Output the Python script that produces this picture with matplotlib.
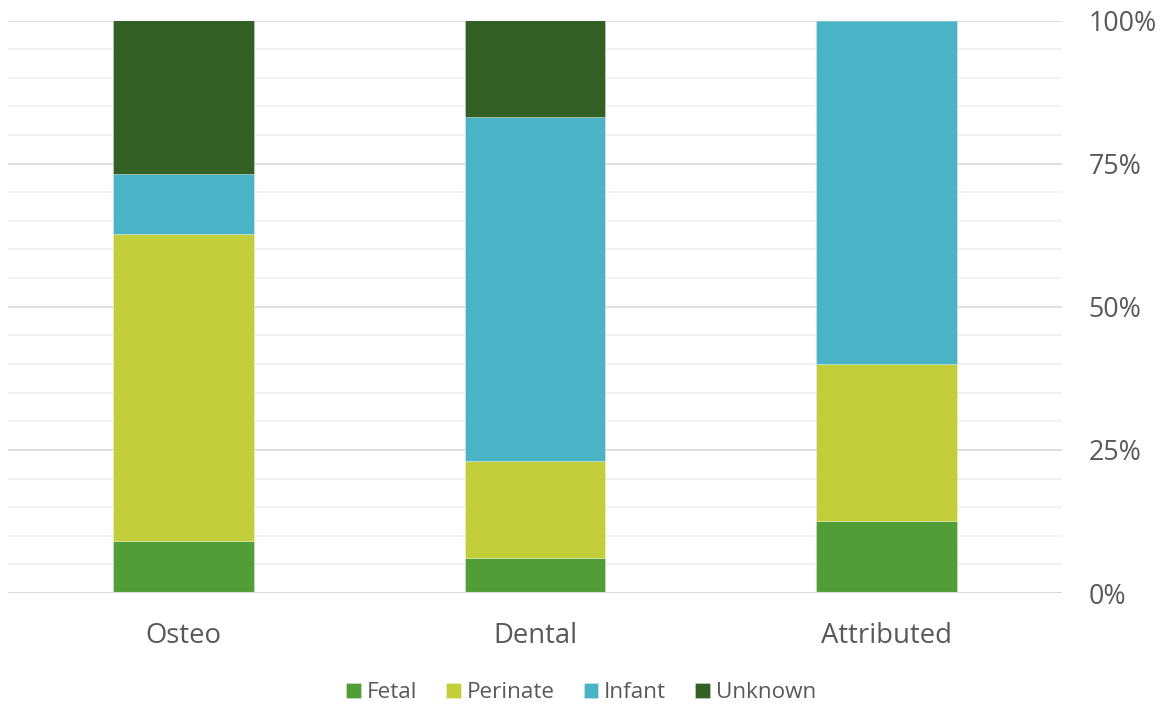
import matplotlib
matplotlib.use("Agg")
import matplotlib.pyplot as plt
import numpy as np

plt.rcParams["font.family"] = ["Open Sans", "DejaVu Sans"]

# share of each age class per identification method (percent)
categories = ["Osteo", "Dental", "Attributed"]
fetal = [9.1, 6.2, 12.5]
perinate = [53.6, 16.9, 27.5]
infant = [10.5, 60.0, 60.0]
unknown = [26.8, 16.9, 0.0]

series = [
    ("Fetal", fetal, "#519E39"),
    ("Perinate", perinate, "#C2CF3A"),
    ("Infant", infant, "#4AB4C6"),
    ("Unknown", unknown, "#336024"),
]
text_color = "#595959"

fig = plt.figure(figsize=(11.62, 7.11), dpi=100)
ax = fig.add_axes([8 / 1162, 1 - 593 / 711, 1054 / 1162, 572.5 / 711])

x = np.arange(len(categories))
bottom = np.zeros(len(categories))
for label, vals, color in series:
    vals = np.array(vals)
    ax.bar(x, vals, 0.4, bottom=bottom, color=color, label=label,
           edgecolor="#FFFFFF80", linewidth=0.4, zorder=3)
    bottom += vals

ax.set_xlim(-0.5, 2.5)
ax.set_ylim(0, 100)

# light 5% gridlines, stronger ones at each labelled quarter
for y in np.arange(5, 100, 5):
    if y % 25:
        ax.axhline(y, color="#F0F0F0", linewidth=1.2, zorder=1)
for y in [25, 50, 75, 100]:
    ax.axhline(y, color="#D9D9D9", linewidth=1.2, zorder=1)
ax.axhline(0, color="#D9D9D9", linewidth=1.5, zorder=4)

ax.yaxis.tick_right()
ax.set_yticks([0, 25, 50, 75, 100])
ax.set_yticklabels(["0%", "25%", "50%", "75%", "100%"])
ax.tick_params(axis="y", length=0, pad=19, labelsize=19.3, labelcolor=text_color)
ax.set_xticks(x)
ax.set_xticklabels(categories)
ax.tick_params(axis="x", length=0, pad=21, labelsize=19.8, labelcolor=text_color)
for spine in ax.spines.values():
    spine.set_visible(False)

# legend is centred on the whole figure, below the category labels
handles, labels = ax.get_legend_handles_labels()
fig.legend(handles, labels, loc="center", bbox_to_anchor=(0.5, 1 - 693 / 711),
           ncol=4, frameon=False, fontsize=16.2, labelcolor=text_color,
           handlelength=0.65, handleheight=0.65, handletextpad=0.25,
           columnspacing=1.3)

fig.savefig("out.png", dpi=100, facecolor="white")
